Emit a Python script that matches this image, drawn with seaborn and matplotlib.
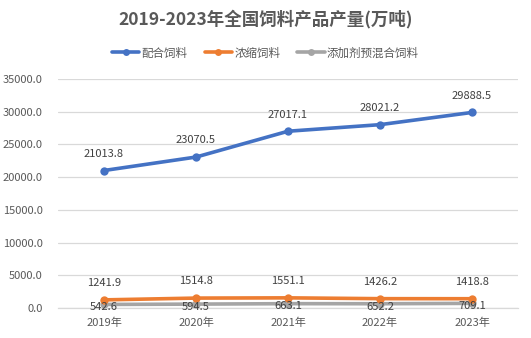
import matplotlib
matplotlib.use("Agg")
import matplotlib.pyplot as plt
import seaborn as sns
import pandas as pd
from matplotlib.lines import Line2D

years = ["2019年", "2020年", "2021年", "2022年", "2023年"]
series_names = ["配合饲料", "浓缩饲料", "添加剂预混合饲料"]
compound_feed = [21013.8, 23070.5, 27017.1, 28021.2, 29888.5]
concentrate_feed = [1241.9, 1514.8, 1551.1, 1426.2, 1418.8]
premix_feed = [542.6, 594.5, 663.1, 652.2, 709.1]
colors = ["#4472C4", "#ED7D31", "#A5A5A5"]

sns.set_theme(style="white")
plt.rcParams["font.family"] = ["Noto Sans CJK SC", "DejaVu Sans"]

values = [compound_feed, concentrate_feed, premix_feed]
rows = []
for name, vals in zip(series_names, values):
    for i, (y, v) in enumerate(zip(years, vals)):
        rows.append({"idx": i, "year": y, "series": name, "value": v})
df = pd.DataFrame(rows)

fig = plt.figure(figsize=(5.31, 3.38), dpi=100)
ax = fig.add_axes([58 / 531, 1 - 308 / 338, 460 / 531, 229 / 338])

sns.lineplot(data=df, x="idx", y="value", hue="series", hue_order=series_names,
             palette=colors, marker="o", markersize=6, markeredgewidth=0,
             linewidth=2.6, ax=ax, legend=False)
for line, z in zip(ax.lines, [5, 4, 3]):
    line.set_zorder(z)

ax.set_xlim(-0.5, 4.5)
ax.set_ylim(0, 35000)
ax.set_yticks(range(0, 35001, 5000))
ax.set_yticklabels([f"{v:.1f}" for v in range(0, 35001, 5000)])
ax.set_xticks(range(len(years)))
ax.set_xticklabels(years)
ax.set_xlabel("")
ax.set_ylabel("")
ax.tick_params(axis="both", length=0, labelsize=8, colors="#595959")
ax.tick_params(axis="y", pad=11)
ax.tick_params(axis="x", pad=7)
ax.grid(axis="y", color="#D9D9D9", linewidth=0.9)
ax.set_axisbelow(True)
for s in ["top", "right", "left"]:
    ax.spines[s].set_visible(False)
ax.spines["bottom"].set_color("#D9D9D9")
ax.spines["bottom"].set_linewidth(0.9)

lbl = dict(ha="center", va="center", fontsize=8, color="#404040", textcoords="offset points")
for i, v in enumerate(compound_feed):
    ax.annotate(f"{v:.1f}", (i, v), xytext=(0, 12), **lbl)
for i, v in enumerate(concentrate_feed):
    ax.annotate(f"{v:.1f}", (i, v), xytext=(0, 12), **lbl)
for i, v in enumerate(premix_feed):
    ax.annotate(f"{v:.1f}", (i, v), xytext=(0, -2), zorder=6, **lbl)

fig.text(0.5, 1 - 19 / 338, "2019-2023年全国饲料产品产量(万吨)", ha="center", va="center",
         fontsize=12.6, fontweight="bold", color="#595959")

handles = [Line2D([0], [0], color=c, linewidth=2.6, marker="o", markersize=5, markeredgewidth=0)
           for c in colors]
fig.legend(handles, series_names, loc="center", bbox_to_anchor=(0.5, 1 - 53 / 338), ncol=3,
           frameon=False, fontsize=8.3, labelcolor="#595959", handlelength=2.35,
           columnspacing=1.5, handletextpad=0.2)

fig.savefig("out.png", dpi=100)
